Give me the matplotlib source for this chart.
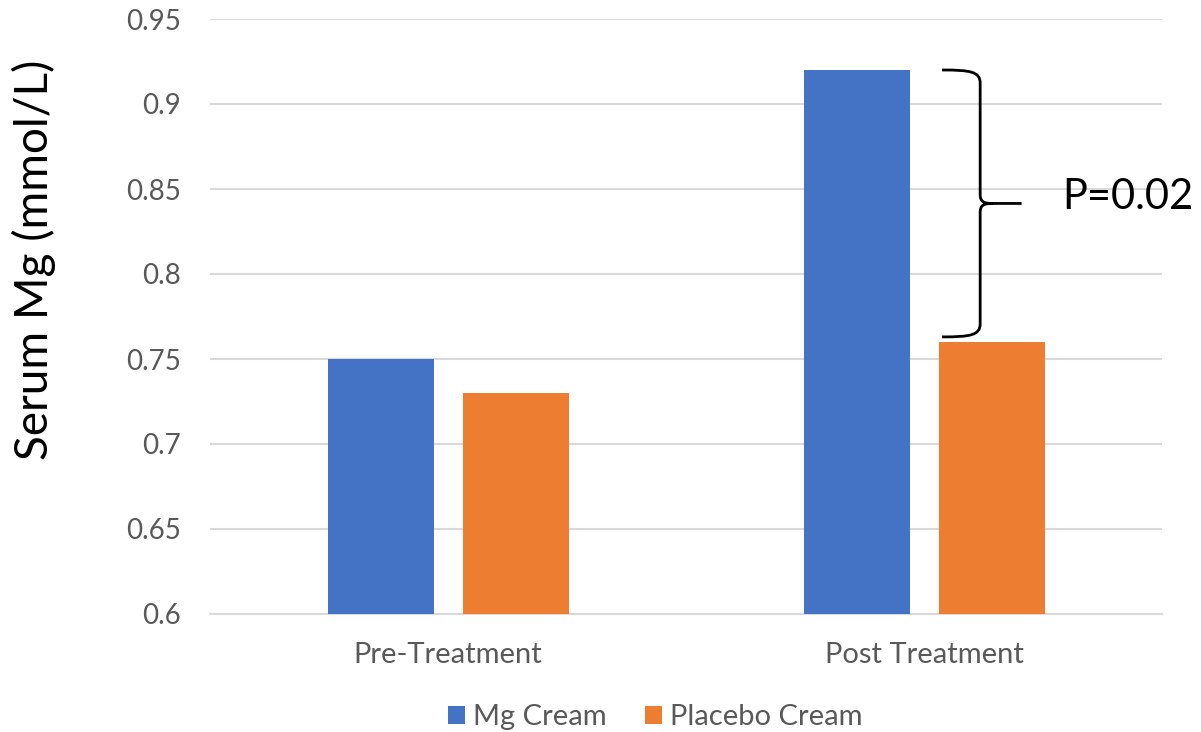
import matplotlib
matplotlib.use("Agg")
import matplotlib.pyplot as plt
import numpy as np
from matplotlib.path import Path
from matplotlib.patches import PathPatch

categories = ["Pre-Treatment", "Post Treatment"]
series_names = ["Mg Cream", "Placebo Cream"]
mg_cream = [0.75, 0.92]
placebo_cream = [0.73, 0.76]
y_ticks = [0.6, 0.65, 0.7, 0.75, 0.8, 0.85, 0.9, 0.95]
y_tick_labels = ["0.6", "0.65", "0.7", "0.75", "0.8", "0.85", "0.9", "0.95"]
p_label = "P=0.02"

plt.rcParams['font.family'] = ['Lato', 'DejaVu Sans']

W, H = 1201, 732
fig = plt.figure(figsize=(W / 100, H / 100), dpi=100)
ax = fig.add_axes([210 / W, 1 - 614 / H, 952 / W, 595 / H])

x = np.arange(len(categories))
bw = 106 / 476
off = 67.5 / 476
ax.bar(x - off, mg_cream, width=bw, color="#4472C4", label=series_names[0], zorder=3)
ax.bar(x + off, placebo_cream, width=bw, color="#ED7D31", label=series_names[1], zorder=3)

ax.set_xlim(-0.5, 1.5)
ax.set_ylim(0.6, 0.95)
ax.set_yticks(y_ticks)
ax.set_yticklabels(y_tick_labels)
ax.set_xticks(x)
ax.set_xticklabels(categories)
ax.grid(axis="y", color="#D9D9D9", linewidth=1.5, zorder=0)
for s in ["top", "right", "left"]:
    ax.spines[s].set_visible(False)
ax.spines["bottom"].set_color("#D9D9D9")
ax.spines["bottom"].set_linewidth(1.5)
ax.tick_params(axis="both", length=0, labelcolor="#595959")
ax.tick_params(axis="y", pad=21, labelsize=20)
ax.tick_params(axis="x", pad=20, labelsize=21)

fig.text(34 / W, 1 - 260 / H, "Serum Mg (mmol/L)", rotation=90, ha="center", va="center",
         fontsize=33, color="black")

# brace between post-treatment bars
top = mg_cream[1]
bot = placebo_cream[1] + 0.003
mid = (top + bot) / 2
x0 = 1.038
xv = 1.118
xt = 1.205
dy = 6 / 1700
dx = 12 / 476
verts = [
    (x0, top), (xv - 0.02, top), (xv, top - 0.001), (xv, top - 2.2 * dy),
    (xv, mid + 1.5 * dy),
    (xv, mid + 0.3 * dy), (xv + 0.3 * dx, mid), (xv + dx, mid),
    (xt, mid),
    (xv + dx, mid),
    (xv + 0.3 * dx, mid), (xv, mid - 0.3 * dy), (xv, mid - 1.5 * dy),
    (xv, bot + 2.2 * dy),
    (xv, bot + 0.001), (xv - 0.02, bot), (x0, bot),
]
codes = [Path.MOVETO, Path.CURVE4, Path.CURVE4, Path.CURVE4,
         Path.LINETO,
         Path.CURVE4, Path.CURVE4, Path.CURVE4,
         Path.LINETO,
         Path.MOVETO,
         Path.CURVE4, Path.CURVE4, Path.CURVE4,
         Path.LINETO,
         Path.CURVE4, Path.CURVE4, Path.CURVE4]
ax.add_patch(PathPatch(Path(verts, codes), fill=False, edgecolor="black", linewidth=2.0,
                       clip_on=False, zorder=5, capstyle="butt"))
ax.text(1.29, mid + 0.004, p_label, fontsize=30, ha="left", va="center", color="black",
        clip_on=False)

handles, labels = ax.get_legend_handles_labels()
leg = fig.legend(handles, labels, loc="center", bbox_to_anchor=(655 / W, 1 - 717 / H), ncol=2,
                 frameon=False, fontsize=21, handlelength=0.59, handleheight=0.59,
                 handletextpad=0.28, columnspacing=1.3, borderaxespad=0)
for t in leg.get_texts():
    t.set_color("#595959")

fig.savefig("out.png", dpi=100)
